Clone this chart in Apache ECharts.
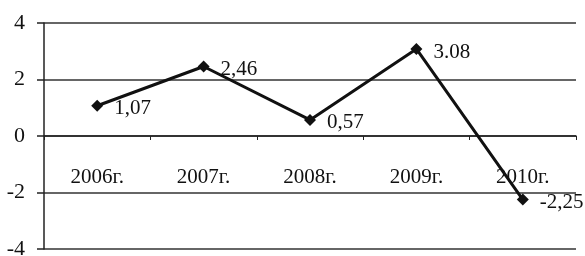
<!DOCTYPE html>
<html>
<head>
<meta charset="utf-8">
<script src="https://cdn.jsdelivr.net/npm/echarts@6/dist/echarts.min.js"></script>
<style>
  html, body { margin: 0; padding: 0; background: #fff; }
  #chart { width: 585px; height: 256px; }
</style>
</head>
<body>
<div id="chart"></div>
<script>
var years = ['2006г.', '2007г.', '2008г.', '2009г.', '2010г.'];
var values = [1.07, 2.46, 0.57, 3.08, -2.25];
var valueLabels = ['1,07', '2,46', '0,57', '3.08', '-2,25'];

var chartDom = document.getElementById('chart');
var myChart = echarts.init(chartDom);
var option;

option = {
    animation: false,
    grid: { left: 44, right: 9, top: 23, bottom: 7, outerBoundsMode: 'none' },
    xAxis: {
        type: 'category',
        data: years,
        boundaryGap: true,
        axisLine: { onZero: true, lineStyle: { color: '#222', width: 1.5 } },
        axisTick: { show: true, length: 4, lineStyle: { color: '#222' } },
        axisLabel: {
            margin: -82,
            color: '#111',
            fontFamily: 'Liberation Serif',
            fontSize: 21
        }
    },
    yAxis: {
        type: 'value',
        min: -4,
        max: 4,
        interval: 2,
        axisLine: { show: true, lineStyle: { color: '#222', width: 1.5 } },
        axisTick: { show: true, length: 7, lineStyle: { color: '#222', width: 1.5 } },
        splitLine: { lineStyle: { color: '#333', width: 1.5 } },
        axisLabel: {
            margin: 19,
            color: '#111',
            fontFamily: 'Liberation Serif',
            fontSize: 22
        }
    },
    series: [
        {
            type: 'line',
            data: values,
            symbol: 'diamond',
            symbolSize: 12,
            lineStyle: { color: '#111', width: 3 },
            itemStyle: { color: '#111' },
            label: {
                show: true,
                position: 'right',
                offset: [6, 3],
                color: '#111',
                fontFamily: 'Liberation Serif',
                fontSize: 21,
                formatter: function (p) { return valueLabels[p.dataIndex]; }
            }
        }
    ]
};

option && myChart.setOption(option);
</script>
</body>
</html>
